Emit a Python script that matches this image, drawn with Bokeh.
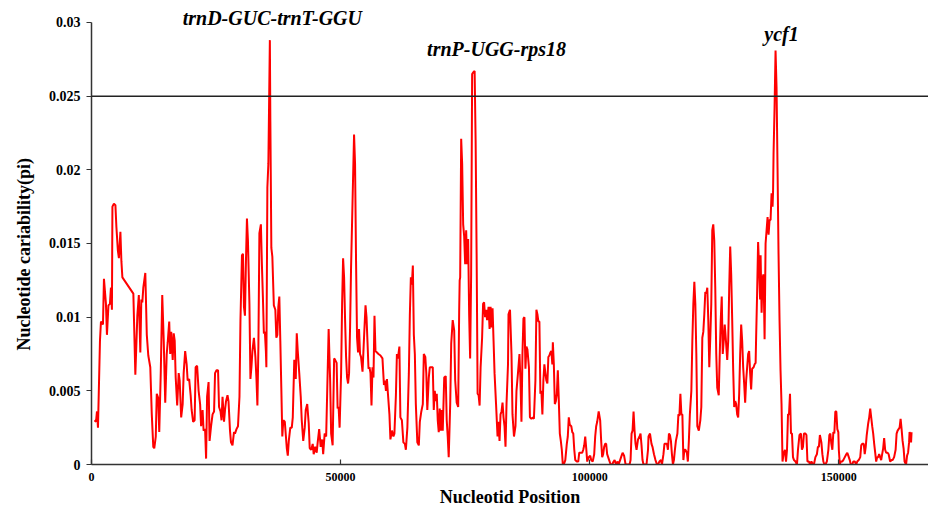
from bokeh.plotting import figure
from bokeh.models import Range1d, Span, Label, FixedTicker, ColumnDataSource, Title
from bokeh.embed import file_html
from bokeh.resources import INLINE

# ---- data ----
positions = [
    600, 900, 1100, 1300, 1700, 1900, 2300, 2500, 2900, 3100, 3400, 3700, 3900, 4100, 4200, 4500,
    4800, 5000, 5300, 5500, 5800, 6000, 6200, 8400, 8800, 9200, 9500, 9800, 10000, 10200, 10400,
    10800, 11100, 11400, 11800, 12100, 12400, 12600, 12900, 13100, 13400, 13600, 13900, 14200,
    14500, 14800, 15100, 15300, 15600, 15800, 16000, 16300, 16500, 16700, 16900, 17200, 17500,
    17700, 18000, 18300, 18500, 18800, 19100, 19300, 19600, 19900, 20100, 20400, 20700, 20900,
    21200, 21500, 21800, 22000, 22300, 22500, 22800, 23000, 23200, 23500, 23700, 24000, 24300,
    24600, 24800, 25100, 25400, 25600, 25900, 26100, 26300, 26600, 26800, 27000, 27300,
    27500, 27800, 28000, 28300, 28600, 28800, 29100, 29400, 29700, 29900, 30200, 30400, 30600,
    30800, 31000, 31200, 31400, 31700, 31900, 32100, 32300, 32600, 32900, 33100, 33300, 33500,
    33700, 34000, 34200, 34400, 34600, 34800, 35000, 35100, 35300, 35500, 35800, 35900, 36100,
    36300, 36600, 36900, 37100, 37300, 37500, 37700, 37900, 38100, 38300, 38500, 38800, 39000,
    39200, 39400, 39600, 39900, 40200, 40400, 40700, 41000, 41200, 41400, 41700, 42000, 42200,
    42500, 42800, 43000, 43300, 43600, 43800, 44100, 44400, 44600, 44900, 45200, 45400, 45700,
    46000, 46300, 46500, 46800, 47100, 47300, 47600, 47900, 48100, 48400, 48700, 48900, 49200,
    49400, 49600, 49800, 50100, 50300, 50500, 50700, 50900, 51100, 51300, 51500, 51700, 51900,
    52100, 52400, 52700, 52900, 53100, 53300, 53500, 53700, 53900, 54100, 54400, 54700, 55000,
    55200, 55400, 55600,
    55800, 56000, 56200, 56400, 56600, 56800, 57000, 57300, 57600, 58000, 58400, 58700, 58900,
    59100, 59300, 59500, 59800, 60000, 60300, 60600, 60800, 61100, 61300, 61500, 61800, 62000,
    62300, 62600, 62900, 63100, 63400, 63700, 63900, 64100, 64300, 64500, 64700, 64900, 65100,
    65400, 65700, 65900, 66200, 66500, 66700, 67000, 67200, 67400, 67700, 67900, 68200, 68500,
    68700, 68900, 69100, 69300, 69500, 69700, 69900, 70100, 70300, 70500, 70800, 71100, 71300,
    71500, 71700, 72000, 72200, 72500, 72800, 73000, 73300, 73600, 73800, 73900, 74000, 74200,
    74400, 74600, 74800, 75000, 75200, 75400, 75600, 75800, 76000, 76200, 76400, 76600, 76900,
    77100, 77300, 77500, 77700, 77900, 78100, 78400, 78600, 78800, 79000, 79200, 79400, 79700,
    79900, 80100, 80300, 80500, 80700, 80900, 81200, 81500, 81700, 81900, 82100, 82300, 82500,
    82700, 82900, 83100, 83300, 83600,
    83700, 84000, 84300, 84500, 84800, 85100, 85300, 85600, 85900, 86100, 86300, 86500, 86700,
    86900, 87100, 87300, 87500, 87800, 88000, 88300, 88600, 88800, 89100, 89300, 89500, 89700,
    89900, 90100, 90300, 90500, 90700, 90900, 91100, 91300, 91500, 91700, 91900, 92100, 92300,
    92500, 92600, 92800, 93000, 93200, 93400, 93600, 93800, 94000, 94200, 94400, 94600, 94800,
    95100, 95400, 95600, 95800, 96000, 96300, 96500, 96700, 96900, 97100, 97400, 97700, 97900,
    98200, 98500, 98700, 98900, 99100, 99300, 99500, 99800, 100100, 100300, 100600, 100900,
    101100, 101300, 101500, 101800, 102100, 102300, 102500, 102700, 102900, 103100, 103300,
    103500, 103700, 103900, 104200, 104500, 104800, 105000, 105300, 105600, 105800, 106100,
    106400, 106600, 106900, 107200, 107400, 107700, 108000, 108200, 108400, 108600, 108800,
    109000, 109200, 109400, 109700, 110000, 110200, 110400, 110600, 110800, 111200, 111400,
    111700,
    111800, 112100, 112400, 112600, 112900, 113200, 113500, 113700, 114000, 114300, 114500,
    114800, 115000, 115200, 115500, 115700, 115900, 116100, 116300, 116500, 116700, 116900,
    117100, 117300, 117600, 117800, 118000, 118200, 118400, 118600, 118800, 119000, 119200,
    119500, 119700, 119900, 120100, 120400, 120600, 120800, 121000, 121200, 121400, 121600,
    121900, 122200, 122400, 122600, 122800, 123000, 123200, 123400, 123600, 123800, 124000,
    124200, 124400, 124600, 124800, 125000, 125200, 125400, 125600, 125900, 126100, 126300,
    126500, 126700, 126900, 127100, 127300, 127600, 127800, 128000, 128200, 128400, 128600,
    128800, 129000, 129200, 129400, 129600, 129800, 130000, 130200, 130400, 130600, 130800,
    131000, 131200, 131400, 131600, 131800, 132000, 132200, 132400, 132600, 132900, 133100,
    133300, 133400, 133600, 133800, 134000, 134200, 134300, 134500, 134700, 134900, 135100,
    135300, 135500, 135700, 135900, 136100, 136300, 136500, 136700, 136800, 136900, 137100,
    137300, 137500, 137700, 137900, 138100, 138300, 138500, 138700, 138900, 139200, 139400,
    139600, 139800,
    140000, 140200, 140400, 140600, 140800, 141000, 141300, 141600, 141800, 142100, 142400,
    142600, 142800, 143000, 143300, 143500, 143700, 144000, 144200, 144500, 144800, 145000,
    145300, 145600, 145800, 146000, 146200, 146500, 146700, 146900, 147100, 147300, 147600,
    147900, 148100, 148300, 148500, 148700, 148900, 149100, 149300, 149500, 149700, 149900,
    150000, 150200, 150400, 150700, 150900, 151200, 151500, 151700, 151900, 152200, 152400,
    152700, 152900, 153200, 153500, 153700, 154000, 154300, 154500, 154700, 155000, 155200,
    155400, 155600, 155900, 156100, 156300, 156500, 156700, 156900, 157100, 157300, 157500,
    157700, 157900, 158100, 158300, 158500, 158700, 158900, 159100, 159300, 159500, 159800,
    160000, 160300, 160600, 160800, 161100, 161400, 161600, 161800, 162000, 162200, 162400,
    162600, 162800, 163000, 163200, 163500, 163700, 163900, 164100, 164200, 164300, 164500,
    164600,
]

pi_values = [
    0.0030, 0.0029, 0.0036, 0.0025, 0.0084, 0.0097, 0.0095, 0.0126, 0.0109, 0.0088, 0.0108, 0.0109,
    0.0120, 0.0105, 0.0175, 0.0177, 0.0176, 0.0161, 0.0145, 0.0140, 0.0158, 0.0138, 0.0127, 0.0116,
    0.0061, 0.0101, 0.0115, 0.0076, 0.0112, 0.0110, 0.0120, 0.0130, 0.0088, 0.0074, 0.0066, 0.0034,
    0.0012, 0.0011, 0.0019, 0.0048, 0.0045, 0.0022, 0.0062, 0.0115, 0.0084, 0.0042, 0.0075, 0.0083,
    0.0097, 0.0075, 0.0090, 0.0071, 0.0089, 0.0084, 0.0059, 0.0040, 0.0062, 0.0057, 0.0032, 0.0041,
    0.0062, 0.0077, 0.0068, 0.0057, 0.0058, 0.0047, 0.0037, 0.0029, 0.0030, 0.0066, 0.0067, 0.0050,
    0.0041, 0.0026, 0.0037, 0.0023, 0.0024, 0.0004, 0.0046, 0.0056, 0.0016, 0.0026, 0.0034, 0.0036,
    0.0062, 0.0064, 0.0064, 0.0039, 0.0036, 0.0030, 0.0046, 0.0029, 0.0037, 0.0043, 0.0047,
    0.0043, 0.0023, 0.0015, 0.0013, 0.0022, 0.0021, 0.0024, 0.0026, 0.0046, 0.0098, 0.0142, 0.0143,
    0.0107, 0.0101, 0.0138, 0.0167, 0.0152, 0.0109, 0.0058, 0.0066, 0.0077, 0.0086, 0.0073, 0.0059,
    0.0040, 0.0080, 0.0157, 0.0163, 0.0136, 0.0114, 0.0089, 0.0090, 0.0077, 0.0066, 0.0188, 0.0204,
    0.0288, 0.0233, 0.0147, 0.0141, 0.0108, 0.0105, 0.0086, 0.0088, 0.0107, 0.0114, 0.0084, 0.0052,
    0.0019, 0.0030, 0.0029, 0.0020, 0.0011, 0.0006, 0.0016, 0.0025, 0.0025, 0.0032, 0.0071, 0.0058,
    0.0089, 0.0077, 0.0062, 0.0046, 0.0030, 0.0016, 0.0025, 0.0037, 0.0041, 0.0028, 0.0011, 0.0010,
    0.0014, 0.0007, 0.0012, 0.0008, 0.0015, 0.0024, 0.0012, 0.0017, 0.0007, 0.0021, 0.0019, 0.0048,
    0.0092, 0.0057, 0.0021, 0.0013, 0.0072, 0.0071, 0.0069, 0.0038, 0.0039, 0.0025, 0.0062, 0.0109,
    0.0140, 0.0127, 0.0098, 0.0073, 0.0059, 0.0055, 0.0062, 0.0093, 0.0134, 0.0179, 0.0224, 0.0204,
    0.0138, 0.0086, 0.0076, 0.0092, 0.0075, 0.0073, 0.0063, 0.0086, 0.0108, 0.0100, 0.0083, 0.0065,
    0.0066, 0.0062, 0.0040, 0.0066, 0.0059, 0.0101, 0.0077, 0.0076, 0.0075, 0.0074, 0.0072, 0.0054,
    0.0057, 0.0050, 0.0058, 0.0048, 0.0034, 0.0017, 0.0023, 0.0019, 0.0021, 0.0047, 0.0075, 0.0072,
    0.0080, 0.0032, 0.0030, 0.0015, 0.0014, 0.0010, 0.0025, 0.0062, 0.0102, 0.0127, 0.0122, 0.0135,
    0.0088, 0.0075, 0.0041, 0.0015, 0.0013, 0.0029, 0.0036, 0.0041, 0.0075, 0.0073, 0.0062, 0.0037,
    0.0059, 0.0066, 0.0066, 0.0066, 0.0037, 0.0050, 0.0043, 0.0048, 0.0030, 0.0022, 0.0038, 0.0023,
    0.0037, 0.0023, 0.0059, 0.0060, 0.0030, 0.0019, 0.0005, 0.0041, 0.0082, 0.0098, 0.0091, 0.0057,
    0.0042, 0.0039, 0.0105, 0.0125, 0.0127, 0.0221, 0.0204, 0.0163, 0.0155, 0.0136, 0.0159, 0.0136,
    0.0153, 0.0102, 0.0072, 0.0129, 0.0265, 0.0266, 0.0267, 0.0220, 0.0143, 0.0048, 0.0047, 0.0040,
    0.0066, 0.0086, 0.0109, 0.0110, 0.0100, 0.0105, 0.0098, 0.0107, 0.0092, 0.0107, 0.0093, 0.0106,
    0.0084, 0.0062, 0.0041, 0.0019, 0.0029, 0.0016, 0.0034, 0.0036, 0.0042, 0.0032, 0.0026, 0.0012,
    0.0041, 0.0068,
    0.0102, 0.0105, 0.0075, 0.0034, 0.0019, 0.0026, 0.0050, 0.0062, 0.0075, 0.0057, 0.0029, 0.0075,
    0.0099, 0.0100, 0.0065, 0.0080, 0.0078, 0.0066, 0.0032, 0.0031, 0.0032, 0.0031, 0.0057, 0.0105,
    0.0102, 0.0097, 0.0097, 0.0048, 0.0050, 0.0034, 0.0057, 0.0068, 0.0062, 0.0057, 0.0055, 0.0073,
    0.0074, 0.0076, 0.0077, 0.0068, 0.0083, 0.0068, 0.0041, 0.0043, 0.0048, 0.0064, 0.0043, 0.0021,
    0.0016, 0.0010, 0.0000, 0.0000, 0.0003, 0.0014, 0.0019, 0.0032, 0.0027, 0.0026, 0.0022, 0.0021,
    0.0010, 0.0003, 0.0002, 0.0002, 0.0008, 0.0008, 0.0008, 0.0010, 0.0013, 0.0019, 0.0011, 0.0002,
    0.0005, 0.0006, 0.0003, 0.0002, 0.0007, 0.0019, 0.0026, 0.0029, 0.0036, 0.0030, 0.0016, 0.0005,
    0.0007, 0.0012, 0.0014, 0.0014, 0.0007, 0.0005, 0.0003, 0.0000, 0.0000, 0.0002, 0.0003, 0.0000,
    0.0002, 0.0000, 0.0003, 0.0006, 0.0008, 0.0006, 0.0000, 0.0000, 0.0000, 0.0000, 0.0003, 0.0021,
    0.0023, 0.0036, 0.0023, 0.0014, 0.0010, 0.0017, 0.0019, 0.0021, 0.0013, 0.0003, 0.0000, 0.0000,
    0.0000, 0.0010,
    0.0019, 0.0021, 0.0014, 0.0012, 0.0007, 0.0003, 0.0000, 0.0000, 0.0002, 0.0003, 0.0000, 0.0007,
    0.0014, 0.0014, 0.0014, 0.0010, 0.0021, 0.0020, 0.0016, 0.0007, 0.0000, 0.0003, 0.0010, 0.0016,
    0.0021, 0.0034, 0.0033, 0.0048, 0.0034, 0.0034, 0.0003, 0.0010, 0.0010, 0.0008, 0.0002, 0.0016,
    0.0034, 0.0050, 0.0084, 0.0109, 0.0124, 0.0109, 0.0075, 0.0026, 0.0023, 0.0030, 0.0039, 0.0086,
    0.0090, 0.0102, 0.0117, 0.0116, 0.0120, 0.0098, 0.0066, 0.0086, 0.0109, 0.0159, 0.0163, 0.0152,
    0.0120, 0.0075, 0.0052, 0.0047, 0.0075, 0.0098, 0.0114, 0.0075, 0.0084, 0.0095, 0.0086, 0.0071,
    0.0084, 0.0120, 0.0148, 0.0129, 0.0098, 0.0064, 0.0039, 0.0043, 0.0041, 0.0034, 0.0032, 0.0048,
    0.0075, 0.0095, 0.0084, 0.0066, 0.0055, 0.0042, 0.0057, 0.0066, 0.0075, 0.0077, 0.0062, 0.0051,
    0.0065, 0.0066, 0.0068, 0.0069, 0.0086, 0.0116, 0.0151, 0.0134, 0.0112, 0.0142, 0.0103, 0.0127,
    0.0129, 0.0085, 0.0150, 0.0159, 0.0168, 0.0156, 0.0166, 0.0166, 0.0184, 0.0175, 0.0185, 0.0211,
    0.0242, 0.0281, 0.0256, 0.0201, 0.0143, 0.0098, 0.0064, 0.0041, 0.0002, 0.0007, 0.0010, 0.0002,
    0.0010, 0.0034,
    0.0034, 0.0048, 0.0021, 0.0021, 0.0005, 0.0003, 0.0002, 0.0000, 0.0010, 0.0020, 0.0021, 0.0010,
    0.0012, 0.0021, 0.0021, 0.0020, 0.0002, 0.0002, 0.0000, 0.0002, 0.0000, 0.0000, 0.0005, 0.0007,
    0.0012, 0.0012, 0.0020, 0.0015, 0.0007, 0.0002, 0.0000, 0.0000, 0.0002, 0.0010, 0.0020, 0.0021,
    0.0014, 0.0010, 0.0022, 0.0021, 0.0036, 0.0036, 0.0024, 0.0022, 0.0010, 0.0000, 0.0002, 0.0002,
    0.0003, 0.0005, 0.0007, 0.0008, 0.0006, 0.0003, 0.0000, 0.0000, 0.0002, 0.0002, 0.0000, 0.0002,
    0.0003, 0.0005, 0.0013, 0.0014, 0.0014, 0.0007, 0.0012, 0.0020, 0.0028, 0.0032, 0.0038, 0.0032,
    0.0026, 0.0021, 0.0014, 0.0008, 0.0002, 0.0005, 0.0005, 0.0007, 0.0005, 0.0003, 0.0007, 0.0011,
    0.0018, 0.0010, 0.0008, 0.0008, 0.0007, 0.0002, 0.0003, 0.0003, 0.0005, 0.0010, 0.0021, 0.0023,
    0.0024, 0.0025, 0.0031, 0.0024, 0.0016, 0.0011, 0.0002, 0.0000, 0.0006, 0.0008, 0.0015, 0.0022,
    0.0021, 0.0015, 0.0022,
]

threshold = 0.025

y_ticks = [0, 0.005, 0.01, 0.015, 0.02, 0.025, 0.03]
y_tick_labels = ["0", "0.005", "0.01", "0.015", "0.02", "0.025", "0.03"]
x_ticks = [0, 50000, 100000, 150000]
x_tick_labels = ["0", "50000", "100000", "150000"]

peak_names = ["trnD-GUC-trnT-GGU", "trnP-UGG-rps18", "ycf1"]
peak_label_x = [36300, 81300, 138500]
peak_label_y = [0.0303, 0.0282, 0.0292]

x_title = "Nucleotid Position"
y_title = "Nucleotide cariability(pi)"

# ---- figure ----
FONT = "Liberation Serif"
Y_AXIS_TOP = 0.03      # axis line stops at the top tick
Y_VIEW_TOP = 0.03149   # extra headroom so the top annotation is not clipped

p = figure(width=928, height=509, output_backend="svg", toolbar_location=None,
           x_range=Range1d(0, 168000), y_range=Range1d(0, Y_VIEW_TOP),
           min_border_left=91, min_border_right=0, min_border_top=0, min_border_bottom=45)
p.background_fill_color = "white"
p.border_fill_color = "white"
p.outline_line_color = None
p.xgrid.visible = False
p.ygrid.visible = False

src = ColumnDataSource(dict(x=positions, y=pi_values))
p.line("x", "y", source=src, line_color="#FF0000", line_width=2)

p.add_layout(Span(location=threshold, dimension="width", line_color="#222222", line_width=1.5))

# axes
p.yaxis.ticker = FixedTicker(ticks=y_ticks)
p.yaxis.major_label_overrides = {t: l for t, l in zip(y_ticks, y_tick_labels)}
p.yaxis.bounds = (0, Y_AXIS_TOP)
p.xaxis.ticker = FixedTicker(ticks=x_ticks)
p.xaxis.major_label_overrides = {t: l for t, l in zip(x_ticks, x_tick_labels)}

for ax in (p.xaxis[0], p.yaxis[0]):
    ax.axis_line_color = "#333333"
    ax.axis_line_width = 1.5
    ax.major_tick_line_color = "#333333"
    ax.major_tick_line_width = 1.2
    ax.minor_tick_line_color = None
    ax.major_label_text_font = FONT
    ax.major_label_text_font_style = "bold"
    ax.major_label_text_color = "black"
    ax.axis_label_text_font = FONT
    ax.axis_label_text_font_style = "bold"
    ax.axis_label_text_color = "black"

p.yaxis.major_tick_in = 0
p.yaxis.major_tick_out = 5
p.yaxis.major_label_text_font_size = "14px"
p.yaxis.major_label_standoff = 6

# y title as a left-side title so it can sit where the reference puts it
p.add_layout(Title(text=y_title, align="left", offset=114, vertical_align="middle",
                   standoff=22, text_font=FONT, text_font_style="bold",
                   text_font_size="18px", text_color="black"), "left")

p.xaxis.major_tick_in = 5
p.xaxis.major_tick_out = 0
p.xaxis.major_label_text_font_size = "12px"
p.xaxis.major_label_standoff = 8
p.xaxis.axis_label = x_title
p.xaxis.axis_label_text_font_size = "18px"
p.xaxis.axis_label_standoff = 3

for name, lx, ly in zip(peak_names, peak_label_x, peak_label_y):
    p.add_layout(Label(x=lx, y=ly, text=name, text_font=FONT, text_font_style="bold italic",
                       text_font_size="20px", text_align="center", text_baseline="middle",
                       text_color="black"))

open("out.html", "w").write(file_html(p, INLINE))
